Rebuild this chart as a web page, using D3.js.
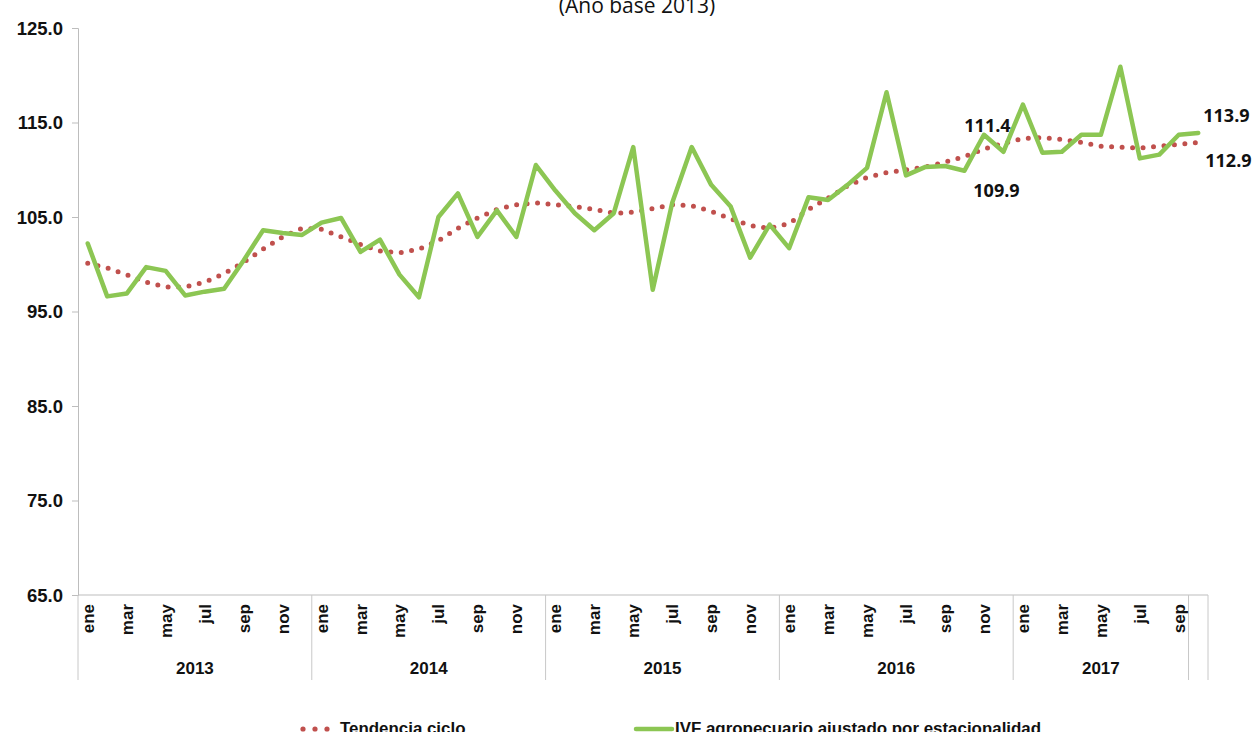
<!DOCTYPE html>
<html>
<head>
<meta charset="utf-8">
<script src="https://cdn.jsdelivr.net/npm/d3@7"></script>
<style>
  body { margin: 0; background: #fff; }
  svg { display: block; }
  .ytick { font-family: "Liberation Sans", Arial, sans-serif; font-weight: bold; font-size: 18.5px; fill: #111; }
  .mes { font-family: "Liberation Sans", Arial, sans-serif; font-weight: bold; font-size: 17px; fill: #111; }
  .anio { font-family: "Liberation Sans", Arial, sans-serif; font-weight: bold; font-size: 17px; fill: #111; }
  .etiqueta { font-family: "Open Sans", sans-serif; font-weight: bold; font-size: 18px; fill: #111; }
  .leyenda { font-family: "Liberation Sans", Arial, sans-serif; font-weight: bold; font-size: 16.9px; fill: #111; }
</style>
</head>
<body>
<div id="chart"></div>
<script>
// data
const mesesNombres = ["ene","feb","mar","abr","may","jun","jul","ago","sep","oct","nov","dic"];
const grupos = [["2013", 12], ["2014", 12], ["2015", 12], ["2016", 12], ["2017", 9], ["", 1]];
const yTicks = [65, 75, 85, 95, 105, 115, 125];

// IVF agropecuario ajustado por estacionalidad, ene 2013 - oct 2017
const ivf = [
  102.2, 96.6, 96.9, 99.7, 99.3, 96.7, 97.1, 97.4, 100.4, 103.6, 103.3, 103.1,
  104.4, 104.9, 101.3, 102.6, 98.9, 96.5, 105.0, 107.5, 102.9, 105.7, 102.9, 110.5,
  107.8, 105.4, 103.6, 105.4, 112.4, 97.3, 106.5, 112.4, 108.4, 106.1, 100.7, 104.2,
  101.7, 107.1, 106.8, 108.4, 110.2, 118.2, 109.4, 110.3, 110.4, 109.9, 113.7, 111.9,
  116.9, 111.8, 111.9, 113.7, 113.7, 120.9, 111.2, 111.6, 113.7, 113.9
];
// Tendencia ciclo
const tendencia = [
  100.1, 99.6, 98.9, 98.1, 97.6, 97.6, 98.1, 99.0, 100.2, 101.6, 102.9, 103.8,
  103.7, 102.9, 102.1, 101.4, 101.2, 101.6, 102.5, 103.8, 104.9, 105.8, 106.3, 106.5,
  106.3, 106.1, 105.8, 105.4, 105.5, 105.9, 106.3, 106.2, 105.6, 104.8, 104.1, 103.8,
  104.3, 105.8, 107.0, 108.3, 109.2, 109.7, 110.0, 110.3, 110.8, 111.4, 112.2, 112.8,
  113.3, 113.4, 113.2, 112.9, 112.5, 112.4, 112.3, 112.5, 112.7, 112.9
];

// categories built from the groups
const categorias = [];
grupos.forEach(([anio, n], g) => {
  for (let m = 0; m < n; m++) {
    const mi = anio === "" ? 9 : m;
    categorias.push({ key: g + "-" + m, mes: mesesNombres[mi], idx: mi, anio: anio });
  }
});

const W = 1259, H = 732;
const margin = { top: 28, left: 78, right: 51, bottom: 137 };

const svg = d3.select("#chart").append("svg")
  .attr("width", W)
  .attr("height", H);

const x = d3.scaleBand()
  .domain(categorias.map(d => d.key))
  .range([margin.left, W - margin.right])
  .padding(0);

const y = d3.scaleLinear()
  .domain([65, 125])
  .range([H - margin.bottom, margin.top]);

const cx = i => x(categorias[i].key) + x.bandwidth() / 2;
const y0 = y(65);

// title (cut at top, as in the original)
svg.append("text")
  .attr("x", 637).attr("y", 13)
  .attr("text-anchor", "middle")
  .style("font-family", "'Open Sans', sans-serif")
  .style("font-size", "21px")
  .style("fill", "#111")
  .text("(Año base 2013)");

// y axis
const yAxis = d3.axisLeft(y)
  .tickValues(yTicks)
  .tickSize(6)
  .tickFormat(d3.format(".1f"));

const gy = svg.append("g")
  .attr("transform", `translate(${margin.left},0)`)
  .call(yAxis);
gy.select(".domain").attr("stroke", "#bdbdbd");
gy.selectAll(".tick line").attr("stroke", "#bdbdbd");
gy.selectAll(".tick text").attr("class", "ytick").attr("x", -15).attr("dy", "0.35em");

// x axis line
svg.append("line")
  .attr("x1", margin.left).attr("x2", W - margin.right)
  .attr("y1", y0).attr("y2", y0)
  .attr("stroke", "#bdbdbd");

// group separators
let acc = 0;
const bordes = [0];
grupos.forEach(([, n]) => { acc += n; bordes.push(acc); });
bordes.forEach(b => {
  const xb = b < categorias.length ? x(categorias[b].key) : x.range()[1];
  svg.append("line")
    .attr("x1", xb).attr("x2", xb)
    .attr("y1", y0).attr("y2", y0 + 85)
    .attr("stroke", "#c8c8c8");
});

// month labels, every other month
svg.append("g").selectAll("text")
  .data(categorias.map((d, i) => ({ ...d, i })).filter(d => d.idx % 2 === 0 && d.anio !== ""))
  .enter().append("text")
  .attr("class", "mes")
  .attr("transform", d => `translate(${cx(d.i) + 6},${y0 + 9}) rotate(-90)`)
  .attr("text-anchor", "end")
  .text(d => d.mes);

// year labels
grupos.forEach(([anio, n], g) => {
  if (anio === "") return;
  const a = x(categorias[bordes[g]].key);
  const b = bordes[g + 1] < categorias.length ? x(categorias[bordes[g + 1]].key) : x.range()[1];
  svg.append("text")
    .attr("class", "anio")
    .attr("x", (a + b) / 2).attr("y", y0 + 79)
    .attr("text-anchor", "middle")
    .text(anio);
});

// lines
const linea = d3.line()
  .x((d, i) => cx(i))
  .y(d => y(d));

svg.append("path")
  .datum(tendencia)
  .attr("d", linea)
  .attr("fill", "none")
  .attr("stroke", "#c0504d")
  .attr("stroke-width", 5)
  .attr("stroke-linecap", "round")
  .attr("stroke-dasharray", "0 10.5");

svg.append("path")
  .datum(ivf)
  .attr("d", linea)
  .attr("fill", "none")
  .attr("stroke", "#8cc653")
  .attr("stroke-width", 4.5)
  .attr("stroke-linejoin", "round")
  .attr("stroke-linecap", "round");

// value labels
const ult = ivf.length - 1;
const etiquetas = [
  { t: "111.4", i: 45, v: tendencia[45], dx: 23, dy: -25 },
  { t: "109.9", i: 45, v: ivf[45], dx: 32, dy: 26 },
  { t: "113.9", i: ult, v: ivf[ult], dx: 5, dy: -11 },
  { t: "112.9", i: ult, v: tendencia[ult], dx: 7, dy: 25 }
];
svg.append("g").selectAll("text")
  .data(etiquetas)
  .enter().append("text")
  .attr("class", "etiqueta")
  .attr("x", d => cx(d.i) + d.dx)
  .attr("y", d => y(d.v) + d.dy)
  .attr("text-anchor", d => d.i === ult ? "start" : "middle")
  .text(d => d.t);

// legend (cut at bottom, as in the original)
const leg = svg.append("g");
[303, 315, 327].forEach(px => {
  leg.append("circle").attr("cx", px).attr("cy", 729).attr("r", 2.6).attr("fill", "#c0504d");
});
leg.append("text").attr("class", "leyenda").attr("x", 340).attr("y", 734).text("Tendencia ciclo");
leg.append("line")
  .attr("x1", 636).attr("x2", 672).attr("y1", 729).attr("y2", 729)
  .attr("stroke", "#8cc653").attr("stroke-width", 4.5).attr("stroke-linecap", "round");
leg.append("text").attr("class", "leyenda").attr("x", 675).attr("y", 734).text("IVF agropecuario ajustado por estacionalidad");
</script>
</body>
</html>
